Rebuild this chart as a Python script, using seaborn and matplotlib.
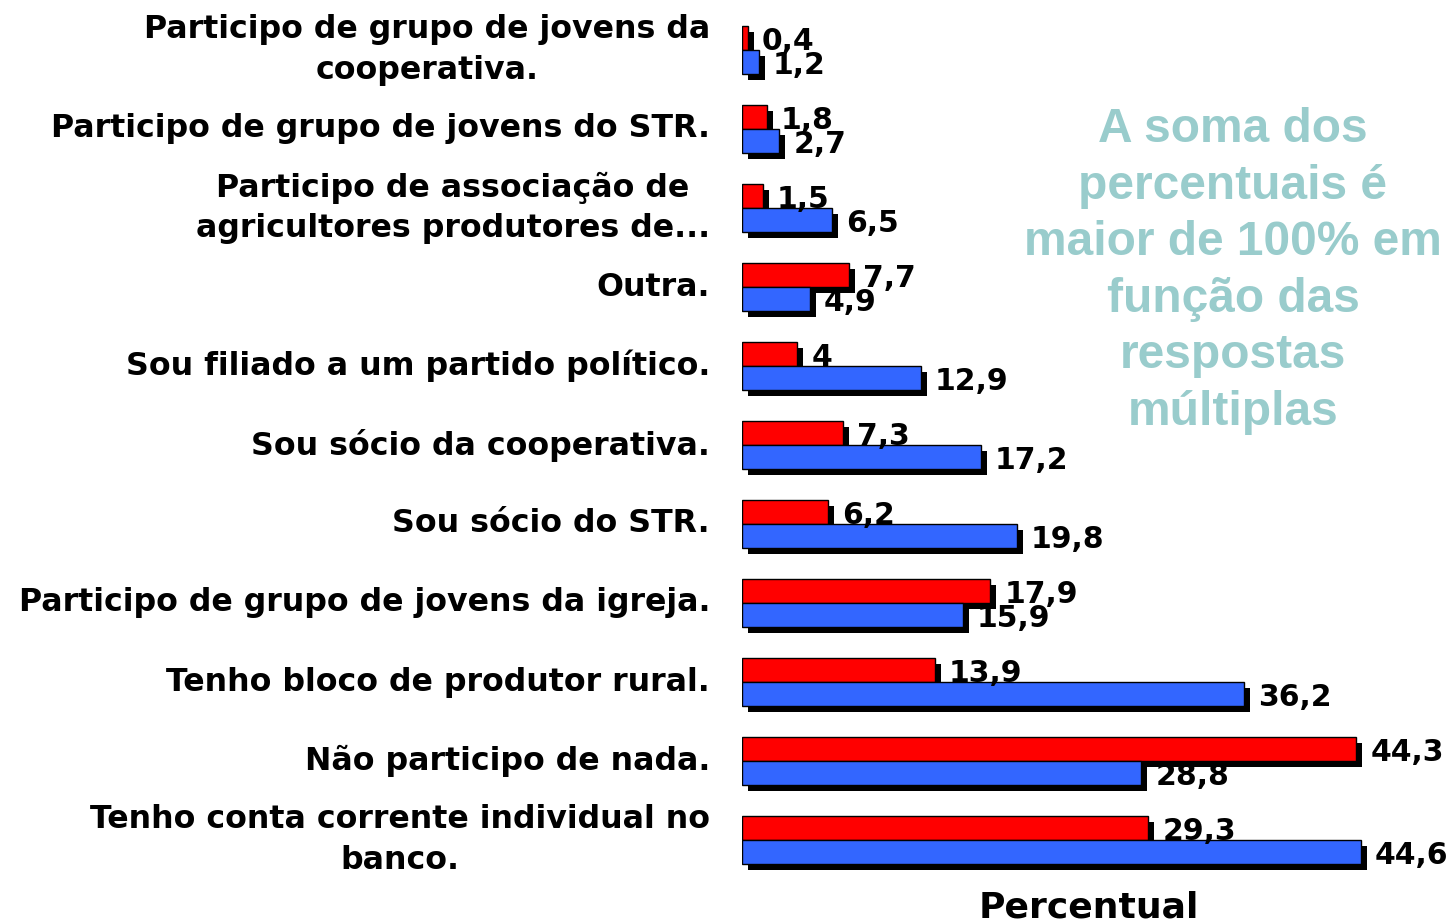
import pandas as pd
import matplotlib
matplotlib.use("Agg")
import matplotlib.pyplot as plt
import matplotlib.patheffects as pe
import seaborn as sns

categorias = [
    "Participo de grupo de jovens da\ncooperativa.",
    "Participo de grupo de jovens do STR.",
    "Participo de associação de\nagricultores produtores de...",
    "Outra.",
    "Sou filiado a um partido político.",
    "Sou sócio da cooperativa.",
    "Sou sócio do STR.",
    "Participo de grupo de jovens da igreja.",
    "Tenho bloco de produtor rural.",
    "Não participo de nada.",
    "Tenho conta corrente individual no\nbanco.",
]
serie_vermelha = [0.4, 1.8, 1.5, 7.7, 4.0, 7.3, 6.2, 17.9, 13.9, 44.3, 29.3]
serie_azul = [1.2, 2.7, 6.5, 4.9, 12.9, 17.2, 19.8, 15.9, 36.2, 28.8, 44.6]
grupos = ["Série 1", "Série 2"]
cores = ["#FF0000", "#3366FF"]

df = pd.DataFrame({
    "categoria": categorias * 2,
    "valor": serie_vermelha + serie_azul,
    "grupo": [grupos[0]] * len(categorias) + [grupos[1]] * len(categorias),
})

sns.set_style("white")
plt.rcParams["font.family"] = ["DejaVu Sans"]
plt.rcParams["font.weight"] = "bold"
plt.rcParams["text.color"] = "black"
plt.rcParams["axes.labelcolor"] = "black"
plt.rcParams["ytick.color"] = "black"

fig = plt.figure(figsize=(14.5, 9.23), dpi=100)
ax = fig.add_axes([742 / 1450, 1 - 879.5 / 923, 0.99 - 742 / 1450, 869 / 923])

sns.barplot(data=df, y="categoria", x="valor", hue="grupo", hue_order=grupos,
            palette=cores, saturation=1, orient="h", width=0.6, edgecolor="black",
            linewidth=1, legend=False, ax=ax)

sombra = [pe.SimplePatchShadow(offset=(4.3, -4.3), shadow_rgbFace="black", alpha=1.0),
          pe.Normal()]
for cont in ax.containers:
    for barra in cont:
        barra.set_path_effects(sombra)
    rotulos = [("%g" % b.get_width()).replace(".", ",") for b in cont]
    textos = ax.bar_label(cont, labels=rotulos, padding=10, fontsize=21.5,
                          fontweight="bold", color="black")
    for t in textos:
        t.xyann = (10, -2.5)

ax.set_xlim(0, 50)
ax.set_ylabel("")
ax.set_xlabel("Percentual", fontsize=26, fontweight="bold", labelpad=8)
ax.set_xticks([])
ax.tick_params(axis="y", length=0, pad=23)
for t in ax.get_yticklabels():
    t.set_fontsize(22.8)
    t.set_fontweight("bold")
    t.set_multialignment("center")
    t.set_linespacing(1.4)
    t.set_verticalalignment("center")
    t.set_color("black")
for s in ax.spines.values():
    s.set_visible(False)

fig.text(1233 / 1450, 1 - 271 / 923,
         "A soma dos\npercentuais é\nmaior de 100% em\nfunção das\nrespostas\nmúltiplas",
         ha="center", va="center", multialignment="center", color="#99CCCC",
         fontsize=34.5, fontweight="bold", family=["Liberation Sans", "DejaVu Sans"],
         linespacing=1.33)

fig.savefig("out.png", dpi=100)
